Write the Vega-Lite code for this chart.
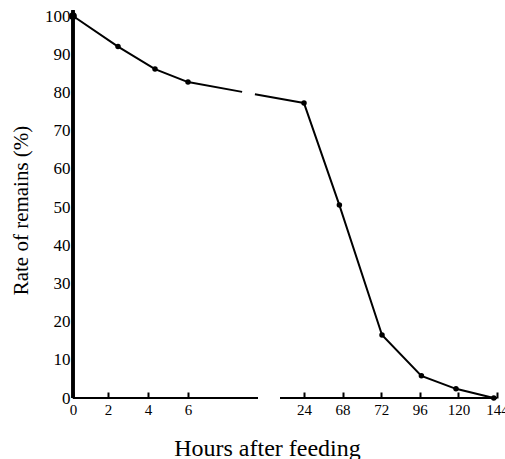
{
  "$schema": "https://vega.github.io/schema/vega-lite/v6.json",
  "width": 432,
  "height": 382,
  "autosize": {"type": "none"},
  "padding": {"left": 73, "top": 16, "right": 0, "bottom": 61},
  "background": "white",
  "config": {
    "view": {"stroke": null},
    "font": "Liberation Serif",
    "axis": {"zindex": 2}
  },
  "data": {"values": [
    {"hours": 0, "rate": 100},
    {"hours": 2.5, "rate": 92},
    {"hours": 4.35, "rate": 86.1},
    {"hours": 6, "rate": 82.7},
    {"hours": 24, "rate": 77.2},
    {"hours": 46, "rate": 50.5},
    {"hours": 72.5, "rate": 16.5},
    {"hours": 97, "rate": 5.8},
    {"hours": 118.5, "rate": 2.4},
    {"hours": 142, "rate": 0}
  ]},
  "encoding": {
    "x": {
      "field": "hours", "type": "quantitative",
      "scale": {"type": "linear", "domain": [0, 2, 6, 9.5, 12, 24, 144], "range": [0, 35, 115, 185, 207, 231, 424], "nice": false, "zero": false},
      "axis": {
        "values": [0, 2, 4, 6, 24, 48, 72, 96, 120, 144],
        "labelExpr": "datum.value == 48 ? '68' : datum.label",
        "domain": false, "ticks": false, "tickSize": 0,
        "grid": true, "gridColor": "black", "gridWidth": 2, "gridOpacity": 1, "gridDash": [0, 376, 6, 1000],
        "labelFontSize": 15, "labelColor": "black", "labelPadding": 4,
        "labelFlush": false, "labelOverlap": false,
        "title": "Hours after feeding", "titleFontSize": 24, "titleFontWeight": "normal", "titleColor": "black",
        "titleX": 194, "titleY": 57, "titleBaseline": "alphabetic", "titleAlign": "center"
      }
    },
    "y": {
      "field": "rate", "type": "quantitative",
      "scale": {"domain": [0, 100], "nice": false},
      "axis": {
        "values": [0, 10, 20, 30, 40, 50, 60, 70, 80, 90, 100],
        "domain": false, "ticks": false, "tickSize": 0, "grid": false,
        "labelFontSize": 17, "labelColor": "black", "labelPadding": 3,
        "labelFlush": false, "labelOverlap": false,
        "title": "Rate of remains (%)", "titleFontSize": 21, "titleFontWeight": "normal", "titleColor": "black",
        "titleAngle": -90, "titleX": -46, "titleY": 194, "titleBaseline": "alphabetic", "titleAlign": "center"
      }
    }
  },
  "layer": [
    {
      "transform": [{"filter": "datum.hours <= 6"}],
      "mark": {"type": "line", "color": "black", "strokeWidth": 2}
    },
    {
      "transform": [{"filter": "datum.hours >= 6 && datum.hours <= 24"}],
      "mark": {"type": "line", "color": "black", "strokeWidth": 2, "strokeDash": [55, 13, 300]}
    },
    {
      "transform": [{"filter": "datum.hours >= 24"}],
      "mark": {"type": "line", "color": "black", "strokeWidth": 2}
    },
    {
      "mark": {"type": "circle", "color": "black", "opacity": 1, "size": 30}
    },
    {
      "transform": [{"filter": "datum.hours == 0"}],
      "mark": {"type": "circle", "color": "black", "opacity": 1, "size": 60}
    },
    {
      "mark": {"type": "rule", "color": "black", "strokeWidth": 2.5, "clip": false},
      "encoding": {
        "x": {"datum": 0, "type": "quantitative",
          "axis": {
            "values": [0, 2, 4, 6, 24, 48, 72, 96, 120, 144],
            "labelExpr": "datum.value == 48 ? '68' : datum.label",
            "domain": false, "ticks": false, "tickSize": 0,
            "grid": true, "gridColor": "black", "gridWidth": 2, "gridOpacity": 1, "gridDash": [0, 376, 6, 1000],
            "labelFontSize": 15, "labelColor": "black", "labelPadding": 4,
            "labelFlush": false, "labelOverlap": false,
            "title": "Hours after feeding", "titleFontSize": 24, "titleFontWeight": "normal", "titleColor": "black",
            "titleX": 194, "titleY": 57, "titleBaseline": "alphabetic", "titleAlign": "center"
          }
        },
        "y": {"datum": 0, "type": "quantitative",
          "axis": {
            "values": [0, 10, 20, 30, 40, 50, 60, 70, 80, 90, 100],
            "domain": false, "ticks": false, "tickSize": 0, "grid": false,
            "labelFontSize": 17, "labelColor": "black", "labelPadding": 3,
            "labelFlush": false, "labelOverlap": false,
            "title": "Rate of remains (%)", "titleFontSize": 21, "titleFontWeight": "normal", "titleColor": "black",
            "titleAngle": -90, "titleX": -46, "titleY": 194, "titleBaseline": "alphabetic", "titleAlign": "center"
          }
        },
        "y2": {"datum": 101.5}
      }
    },
    {
      "data": {"values": [{"from": 0, "to": 9.5, "level": 0}, {"from": 12, "to": 144, "level": 0}]},
      "mark": {"type": "rule", "color": "black", "strokeWidth": 2},
      "encoding": {
        "x": {"field": "from", "type": "quantitative",
          "axis": {
            "values": [0, 2, 4, 6, 24, 48, 72, 96, 120, 144],
            "labelExpr": "datum.value == 48 ? '68' : datum.label",
            "domain": false, "ticks": false, "tickSize": 0,
            "grid": true, "gridColor": "black", "gridWidth": 2, "gridOpacity": 1, "gridDash": [0, 376, 6, 1000],
            "labelFontSize": 15, "labelColor": "black", "labelPadding": 4,
            "labelFlush": false, "labelOverlap": false,
            "title": "Hours after feeding", "titleFontSize": 24, "titleFontWeight": "normal", "titleColor": "black",
            "titleX": 194, "titleY": 57, "titleBaseline": "alphabetic", "titleAlign": "center"
          }
        },
        "x2": {"field": "to"},
        "y": {"field": "level", "type": "quantitative",
          "axis": {
            "values": [0, 10, 20, 30, 40, 50, 60, 70, 80, 90, 100],
            "domain": false, "ticks": false, "tickSize": 0, "grid": false,
            "labelFontSize": 17, "labelColor": "black", "labelPadding": 3,
            "labelFlush": false, "labelOverlap": false,
            "title": "Rate of remains (%)", "titleFontSize": 21, "titleFontWeight": "normal", "titleColor": "black",
            "titleAngle": -90, "titleX": -46, "titleY": 194, "titleBaseline": "alphabetic", "titleAlign": "center"
          }
        }
      }
    },
    {
      "data": {"values": [{"tick": 10}, {"tick": 20}, {"tick": 30}, {"tick": 40}, {"tick": 50}, {"tick": 60}, {"tick": 70}, {"tick": 80}, {"tick": 90}, {"tick": 100}]},
      "mark": {"type": "rule", "color": "black", "strokeWidth": 2},
      "encoding": {
        "x": {"datum": 0, "type": "quantitative",
          "axis": {
            "values": [0, 2, 4, 6, 24, 48, 72, 96, 120, 144],
            "labelExpr": "datum.value == 48 ? '68' : datum.label",
            "domain": false, "ticks": false, "tickSize": 0,
            "grid": true, "gridColor": "black", "gridWidth": 2, "gridOpacity": 1, "gridDash": [0, 376, 6, 1000],
            "labelFontSize": 15, "labelColor": "black", "labelPadding": 4,
            "labelFlush": false, "labelOverlap": false,
            "title": "Hours after feeding", "titleFontSize": 24, "titleFontWeight": "normal", "titleColor": "black",
            "titleX": 194, "titleY": 57, "titleBaseline": "alphabetic", "titleAlign": "center"
          }
        },
        "x2": {"datum": 0.4},
        "y": {"field": "tick", "type": "quantitative",
          "axis": {
            "values": [0, 10, 20, 30, 40, 50, 60, 70, 80, 90, 100],
            "domain": false, "ticks": false, "tickSize": 0, "grid": false,
            "labelFontSize": 17, "labelColor": "black", "labelPadding": 3,
            "labelFlush": false, "labelOverlap": false,
            "title": "Rate of remains (%)", "titleFontSize": 21, "titleFontWeight": "normal", "titleColor": "black",
            "titleAngle": -90, "titleX": -46, "titleY": 194, "titleBaseline": "alphabetic", "titleAlign": "center"
          }
        }
      }
    }
  ]
}
